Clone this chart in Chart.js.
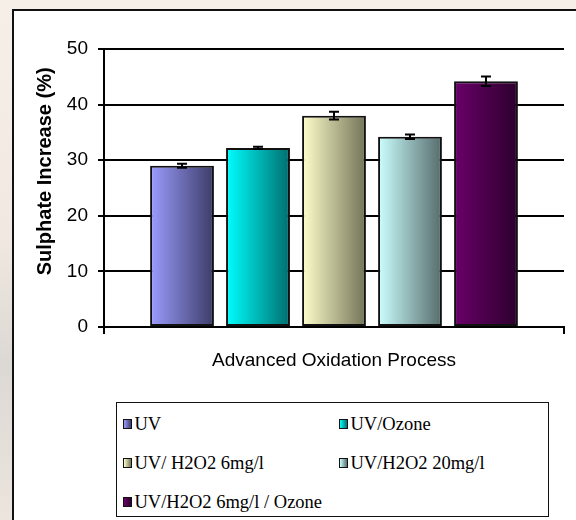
<!DOCTYPE html>
<html>
<head>
<meta charset="utf-8">
<script src="https://cdn.jsdelivr.net/npm/chart.js@4.4.1/dist/chart.umd.min.js"></script>
<style>
html,body{margin:0;padding:0;width:576px;height:520px;overflow:hidden;
  background:linear-gradient(180deg,#f6efe8 0%,#f1e9e1 45%,#dcd8d4 70%,#ece5de 100%);}
#frame{position:absolute;left:12px;top:9px;width:640px;height:640px;border:2px solid #111;background:#fff;}
#wrap{position:absolute;left:0;top:0;width:576px;height:520px;}
#legend{position:absolute;left:116px;top:402px;width:431px;height:113px;border:1.5px solid #111;background:#fff;}
.item{position:absolute;height:20px;line-height:20px;font-family:'Liberation Serif','Times New Roman',serif;
  font-size:18.5px;color:#000;display:flex;align-items:center;white-space:nowrap;}
.sw{width:7px;height:8px;border:1.5px solid #111;margin-right:3px;flex:none;}
</style>
</head>
<body>
<div id="frame"></div>
<div id="wrap"><canvas id="c" width="576" height="520"></canvas></div>
<div id="legend"></div>
<script>
// ---- data ----
const categories = ['UV', 'UV/Ozone', 'UV/ H2O2 6mg/l', 'UV/H2O2 20mg/l', 'UV/H2O2 6mg/l / Ozone'];
const values = [29.0, 32.2, 38.0, 34.2, 44.2];
const errors = [0.35, 0.2, 0.7, 0.4, 0.85];
const yTicks = [0, 10, 20, 30, 40, 50];
const xTitle = 'Advanced Oxidation Process';
const yTitle = 'Sulphate Increase (%)';
const lightColors = ['#9c9cff', '#00ffff', '#ffffcc', '#ccffff', '#6a006a'];
const darkColors  = ['#3c3c68', '#006e6e', '#737358', '#566c6c', '#2c002c'];

// ---- legend (HTML) ----
const legendPos = [[5.5, 10.5], [221.5, 10.5], [5.5, 49.5], [221.5, 49.5], [5.5, 88.5]];
const legend = document.getElementById('legend');
categories.forEach((name, i) => {
  const it = document.createElement('div');
  it.className = 'item';
  it.style.left = legendPos[i][0] + 'px';
  it.style.top = legendPos[i][1] + 'px';
  const sw = document.createElement('span');
  sw.className = 'sw';
  sw.style.background = 'linear-gradient(to right,' + lightColors[i] + ',' + darkColors[i] + ')';
  const tx = document.createElement('span');
  tx.textContent = name;
  it.appendChild(sw); it.appendChild(tx);
  legend.appendChild(it);
});

// ---- plugins ----
const gradientPlugin = {
  id: 'grad',
  beforeDatasetsDraw(chart) {
    const ctx = chart.ctx;
    chart.data.datasets.forEach((ds, i) => {
      const meta = chart.getDatasetMeta(i);
      meta.data.forEach(bar => {
        const x = bar.x, w = bar.width;
        const g = ctx.createLinearGradient(x - w / 2, 0, x + w / 2, 0);
        g.addColorStop(0, lightColors[i]);
        g.addColorStop(1, darkColors[i]);
        bar.options = Object.assign({}, bar.options, { backgroundColor: g });
      });
    });
  }
};
const errorPlugin = {
  id: 'errbars',
  afterDatasetsDraw(chart) {
    const ctx = chart.ctx, ys = chart.scales.y;
    chart.data.datasets.forEach((ds, i) => {
      const bar = chart.getDatasetMeta(i).data[0];
      const v = ds.data[0], e = ds.errors[0];
      const top = ys.getPixelForValue(v + e), bot = ys.getPixelForValue(v - e);
      const x = bar.x;
      ctx.save();
      ctx.strokeStyle = '#000';
      ctx.lineWidth = 2;
      ctx.beginPath();
      ctx.moveTo(x, top); ctx.lineTo(x, bot);
      ctx.moveTo(x - 5, top); ctx.lineTo(x + 5, top);
      ctx.moveTo(x - 5, bot); ctx.lineTo(x + 5, bot);
      ctx.stroke();
      ctx.restore();
    });
  }
};

// ---- chart ----
new Chart(document.getElementById('c'), {
  type: 'bar',
  data: {
    labels: [''],
    datasets: categories.map((name, i) => ({
      label: name,
      data: [values[i]],
      errors: [errors[i]],
      backgroundColor: lightColors[i],
      borderColor: '#111',
      borderWidth: 2,
      borderSkipped: false,
      barPercentage: 0.84,
      categoryPercentage: 0.826
    }))
  },
  options: {
    responsive: false,
    animation: false,
    devicePixelRatio: 1,
    layout: { padding: { left: 0, top: 49, right: 12, bottom: 143 } },
    plugins: { legend: { display: false }, tooltip: { enabled: false } },
    scales: {
      x: {
        afterFit: s => { s.height = 50; },
        ticks: { display: false },
        grid: { display: true, drawOnChartArea: false, drawTicks: true, tickLength: 7, color: '#000', lineWidth: 2 },
        border: { display: true, color: '#000', width: 2 },
        title: {
          display: true, text: xTitle, color: '#000',
          font: { family: "'Liberation Sans', Arial, sans-serif", size: 19 },
          padding: { top: 0, bottom: 4.6 }
        }
      },
      y: {
        min: 0, max: 50,
        afterFit: s => { s.width = 104; },
        afterBuildTicks: s => { s.ticks = yTicks.map(v => ({ value: v })); },
        ticks: {
          color: '#000', padding: 10,
          font: { family: "'Liberation Sans', Arial, sans-serif", size: 19 }
        },
        grid: { color: '#000', lineWidth: 2, tickLength: 6 },
        border: { display: true, color: '#000', width: 2 },
        title: {
          display: true, text: '      ' + yTitle, color: '#000',
          font: { family: "'Liberation Sans', Arial, sans-serif", size: 20, weight: 'bold' },
          padding: { top: 33.5, bottom: 0 }
        }
      }
    }
  },
  plugins: [gradientPlugin, errorPlugin]
});
</script>
</body>
</html>
